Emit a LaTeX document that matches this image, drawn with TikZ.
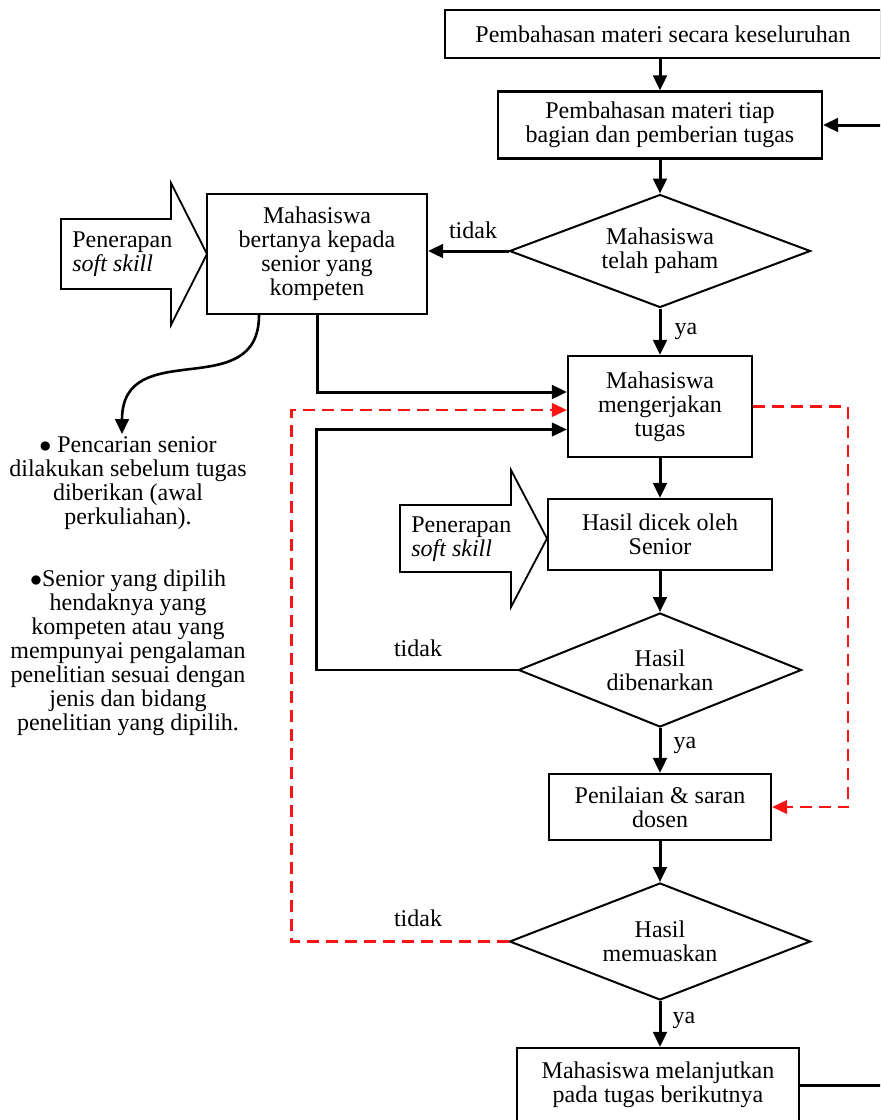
\documentclass[tikz,border=0pt]{standalone}
\usepackage{fontspec}
\setmainfont{Liberation Serif}
\usetikzlibrary{arrows.meta, shapes.geometric, calc}
\definecolor{ink}{RGB}{0,0,0}
\definecolor{rework}{RGB}{250,20,20}

\begin{document}
\begin{tikzpicture}[
  x=0.5pt, y=-0.5pt,
  every node/.style={font=\fontsize{12}{12}\selectfont},
  box/.style={draw=ink, line width=1.1pt, align=center, inner sep=2pt},
  dec/.style={diamond, draw=ink, line width=1pt, align=center, inner sep=0pt, aspect=2.6},
  flow/.style={-{Triangle[length=7.5pt,width=6.8pt]}, draw=ink, line width=1.5pt},
  back/.style={flow, line width=1.1pt},
  redo/.style={-{Triangle[length=7.5pt,width=6.8pt]}, draw=rework, line width=1.1pt,
               dash pattern=on 6pt off 3.5pt},
  shell/.style={draw=ink, line width=0.9pt, line join=miter},
  lab/.style={inner sep=1pt},
  note/.style={align=center, inner sep=1pt}]

  \useasboundingbox (0,0) rectangle (880,1120);
  \clip (0,0) rectangle (880,1120);

  \node[box, minimum width=218pt, minimum height=24pt] (b1) at (663,34) {Pembahasan materi secara keseluruhan};
  \node[box, minimum width=162pt, minimum height=33.5pt] (b2) at (660,125) {Pembahasan materi tiap\\bagian dan pemberian tugas};
  \node[dec, minimum width=150.5pt, minimum height=56.5pt] (d1) at (660,251) {Mahasiswa\\telah paham};
  \node[box, minimum width=110pt, minimum height=60pt] (b3) at (317,254) {Mahasiswa\\bertanya kepada\\senior yang\\kompeten};
  \node[box, minimum width=92pt, minimum height=50.5pt] (b4) at (660,406.5) {Mahasiswa\\mengerjakan\\tugas};
  \node[box, minimum width=112pt, minimum height=35.5pt] (b5) at (660,534.5) {Hasil dicek oleh\\Senior};
  \node[dec, minimum width=141.5pt, minimum height=57pt] (d2) at (660,670) {Hasil\\dibenarkan};
  \node[box, minimum width=111pt, minimum height=33pt] (b6) at (660,807) {Penilaian \& saran\\dosen};
  \node[dec, minimum width=150.5pt, minimum height=58.5pt] (d3) at (660,941.5) {Hasil\\memuaskan};
  \node[box, minimum width=141pt, minimum height=37pt] (b7) at (658,1085) {Mahasiswa melanjutkan\\pada tugas berikutnya};

  \draw[shell] (61,219) -- (171,219) -- (171,183) -- (207,254) -- (171,325) -- (171,289) -- (61,289) -- cycle;
  \node[anchor=west, align=left, inner sep=0pt] (ss1) at (72,254) {Penerapan\\\textit{soft skill}};
  \draw[shell] (400,505) -- (511,505) -- (511,470) -- (547,538.5) -- (511,607) -- (511,572) -- (400,572) -- cycle;
  \node[anchor=west, align=left, inner sep=0pt] (ss2) at (411,539) {Penerapan\\\textit{soft skill}};

  \node[note] (n1) at (128,483) {$\bullet$ Pencarian senior\\dilakukan sebelum tugas\\diberikan (awal\\perkuliahan).};
  \node[note] (n2) at (128,653) {$\bullet$Senior yang dipilih\\hendaknya yang\\kompeten atau yang\\mempunyai pengalaman\\penelitian sesuai dengan\\jenis dan bidang\\penelitian yang dipilih.};

  \draw[flow] (b1.south -| b2.north) -- (b2.north);
  \draw[flow] (b2) -- (d1);
  \draw[flow] (d1.west) -- (d1.west -| b3.east);
  \draw[flow] (d1) -- (b4);
  \draw[flow] (b3.south) |- ([yshift=7.25pt]b4.west);
  \draw[flow, line width=1.3pt] ([xshift=-29pt]b3.south) .. controls +(0,90) and +(0,-100) .. ([xshift=-3pt]n1.north);
  \draw[flow] (b4) -- (b5);
  \draw[flow] (b5) -- (d2);
  \draw[back] (d2.west) -- ++(-201,0) |- ([yshift=-11.5pt]b4.west);
  \draw[flow] (d2) -- (b6);
  \draw[flow] (b6) -- (d3);
  \draw[flow] (d3.south) -- (d3.south |- b7.north);
  \draw[flow] (b7.east) -- ++(110,0) |- (b2.east);
  \draw[redo] (b4.east) -- ++(95,0) |- (b6.east);
  \draw[redo] (d3.west) -- ++(-217,0) |- ([yshift=-1.75pt]b4.west);

  \node[lab] at (473,230) {tidak};
  \node[lab] at (418,648) {tidak};
  \node[lab] at (418,918) {tidak};
  \node[lab] at (686,331) {ya};
  \node[lab] at (685,745) {ya};
  \node[lab] at (684,1020) {ya};
\end{tikzpicture}
\end{document}
